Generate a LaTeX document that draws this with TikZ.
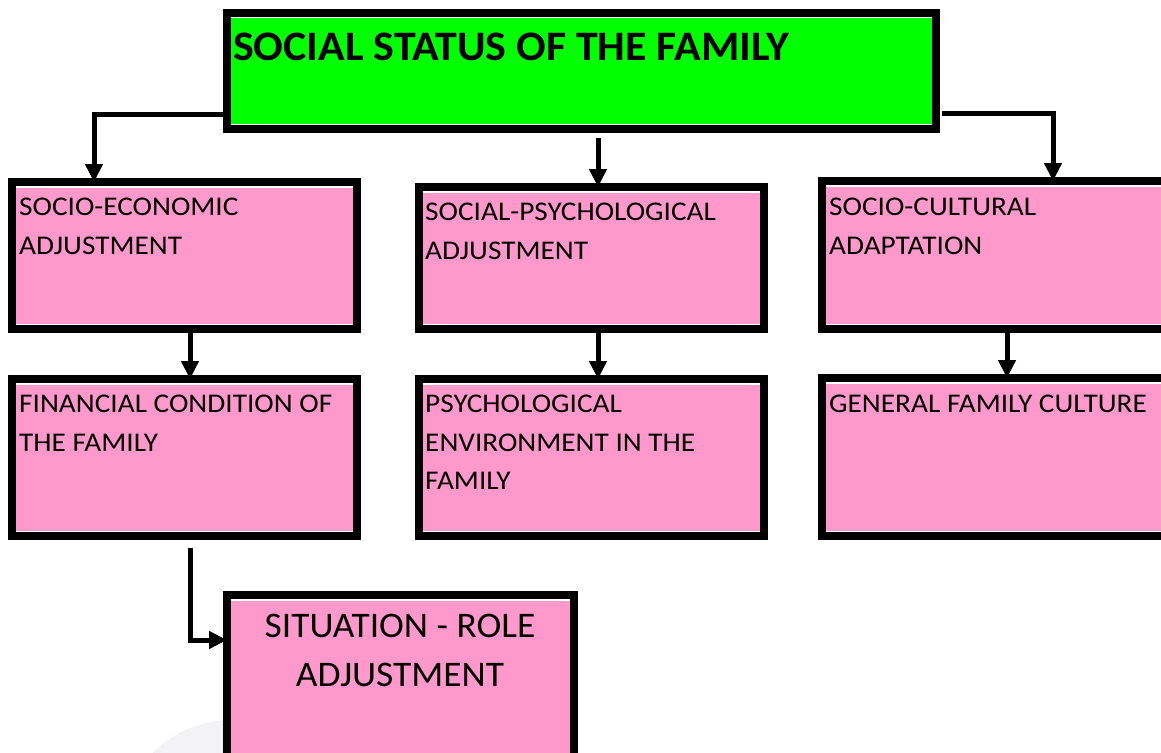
\documentclass[tikz,border=0pt]{standalone}
\usepackage{fontspec}
\setmainfont{Carlito}
\newfontfamily\smallwide[FakeStretch=1.085]{Carlito}
\newfontfamily\titlewide[FakeStretch=1.045]{Carlito}
\newfontfamily\bigwide[FakeStretch=1.04]{Carlito}
\usetikzlibrary{arrows.meta,calc}
\definecolor{boxpink}{RGB}{255,153,204}
\definecolor{boxgreen}{RGB}{0,255,0}
\definecolor{faint}{RGB}{243,243,245}
\begin{document}
\begin{tikzpicture}[x=1pt,y=-1pt,
  box/.style={draw=black, line width=8pt, inner sep=0pt, outer sep=0pt,
    path picture={\draw[white,line width=1.5pt]
      ([yshift=-4.75pt]path picture bounding box.north west) -- ([yshift=-4.75pt]path picture bounding box.north east)
      ([yshift=4.75pt]path picture bounding box.south west) -- ([yshift=4.75pt]path picture bounding box.south east);}},
  pinkbox/.style={box, fill=boxpink},
  txt/.style={font=\smallwide\fontsize{27}{38.5}\selectfont, align=left, anchor=north west, inner sep=0pt, text=black},
  conn/.style={line width=5pt, draw=black, -{Triangle[length=18pt,width=17pt]}}
]
\useasboundingbox (0,0) rectangle (1161,752);
\clip (0,0) rectangle (1161,752);
\fill[white] (0,0) rectangle (1161,752);
\fill[faint] (232,832) circle (112);

% boxes
\node[box, fill=boxgreen, minimum width=709pt, minimum height=116pt] (top) at (581.5,71) {};
\node[pinkbox, minimum width=345pt, minimum height=147pt] (b1) at (184.5,255.5) {};
\node[pinkbox, minimum width=345pt, minimum height=142pt] (b2) at (591.5,258) {};
\node[pinkbox, minimum width=353pt, minimum height=148pt] (b3) at (998.5,255) {};
\node[pinkbox, minimum width=345pt, minimum height=157pt] (b4) at (184.5,457.5) {};
\node[pinkbox, minimum width=345pt, minimum height=157pt] (b5) at (591.5,457.5) {};
\node[pinkbox, minimum width=353pt, minimum height=158pt] (b6) at (998.5,457) {};
\node[pinkbox, minimum width=347pt, minimum height=171pt] (b7) at (400.5,680.5) {};

% texts
\node[anchor=north west, inner sep=0pt, font=\titlewide\bfseries\fontsize{42}{48}\selectfont] (ttop) at (233,33) {SOCIAL STATUS OF THE FAMILY};
\node[txt] (t1) at (19,198) {SOCIO-ECONOMIC\\ADJUSTMENT};
\node[txt] (t2) at (425,203) {SOCIAL-PSYCHOLOGICAL\\ADJUSTMENT};
\node[txt] (t3) at (829,198) {SOCIO-CULTURAL\\ADAPTATION};
\node[txt] (t4) at (19,395) {FINANCIAL CONDITION OF\\THE FAMILY};
\node[txt] (t5) at (425,395) {PSYCHOLOGICAL\\ENVIRONMENT IN THE\\FAMILY};
\node[txt] (t6) at (829,395) {GENERAL FAMILY CULTURE};
\node[anchor=north, inner sep=0pt, align=center, font=\bigwide\fontsize{36}{49}\selectfont] (t7) at (400,614) {SITUATION - ROLE\\ADJUSTMENT};

% connectors
\draw[conn] ($(top.west)+(0,43)$) -| ($(b1.north)+(-90.5,0)$);
\draw[conn] ($(top.south)+(16.5,9)$) -- ($(b2.north)+(6.5,0)$);
\draw[conn] ($(top.east)+(6,42)$) -| ($(b3.north)+(54.5,0)$);
\draw[conn] ($(b1.south)+(5.5,0)$) -- ($(b4.north)+(5.5,0)$);
\draw[conn] ($(b2.south)+(6.5,0)$) -- ($(b5.north)+(6.5,0)$);
\draw[conn] ($(b3.south)+(8.5,0)$) -- ($(b6.north)+(8.5,0)$);
\draw[conn] ($(b4.south)+(5.5,12)$) |- ($(b7.west)+(0,-40.5)$);
\end{tikzpicture}
\end{document}
